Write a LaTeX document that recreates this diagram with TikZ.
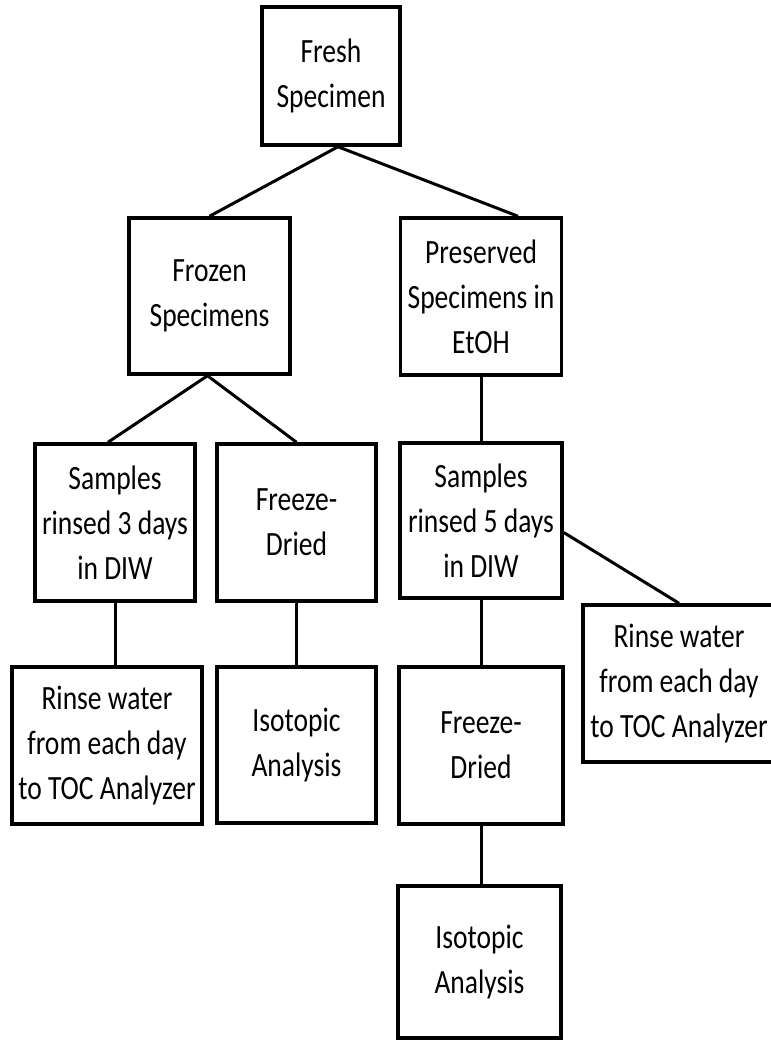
\documentclass[tikz,border=0pt]{standalone}
\usepackage{fontspec}
\setmainfont{Carlito}[FakeStretch=0.81]
\usepackage{tikz}
\usetikzlibrary{positioning}
\tikzstyle{box} = [draw,line width=3.5pt,align=center,inner sep=0pt,minimum width=161pt,minimum height=157pt,font=\fontsize{34}{45}\selectfont]
\tikzstyle{link} = [line width=3pt]

\begin{document}
\begin{tikzpicture}[x=1pt,y=-1pt]
		\useasboundingbox (0,0) rectangle (770,1040);
		\node [box,minimum width=138pt,minimum height=138pt] (fresh) at (331,76) {Fresh\\Specimen};
		\node [box,minimum height=156pt] (frozen) at (209.5,296) {Frozen\\Specimens};
		\node [box] (preserved) at (481,296.5) {Preserved\\Specimens in\\EtOH};
		\node [box,minimum width=160pt] (rinsedthree) at (115,522.5) {Samples\\rinsed 3 days\\in DIW};
		\node [box,minimum width=159pt] (freezeleft) at (296.5,522.5) {Freeze-\\Dried};
		\node [box,minimum width=162pt,minimum height=155pt] (rinsedfive) at (481,520.5) {Samples\\rinsed 5 days\\in DIW};
		\node [box,minimum width=190pt] (rinseleft) at (107,745.5) {Rinse water\\from each day\\to TOC Analyzer};
		\node [box,minimum width=159pt,minimum height=156pt] (isoleft) at (296.5,745) {Isotopic\\Analysis};
		\node [box,minimum width=164pt] (freezeright) at (481,745.5) {Freeze-\\Dried};
		\node [box,minimum width=192pt] (rinseright) at (679,683.5) {Rinse water\\from each day\\to TOC Analyzer};
		\node [box,minimum width=163pt,minimum height=152pt] (isoright) at (479.5,962) {Isotopic\\Analysis};
		\draw [link] ([xshift=7pt]fresh.south) -- (frozen.north);
		\draw [link] ([xshift=7pt]fresh.south) -- ([xshift=37pt]preserved.north);
		\draw [link] ([xshift=-2pt]frozen.south) -- ([xshift=-7pt]rinsedthree.north);
		\draw [link] ([xshift=-2pt]frozen.south) -- (freezeleft.north);
		\draw [link] (preserved.south) -- (rinsedfive.north);
		\draw [link] ([yshift=-12pt]rinsedfive.east) -- (rinseright.north);
		\draw [link] (rinsedthree.south) -- (rinsedthree.south |- rinseleft.north);
		\draw [link] (freezeleft.south) -- (isoleft.north);
		\draw [link] (rinsedfive.south) -- (rinsedfive.south |- freezeright.north);
		\draw [link] (freezeright.south) -- (freezeright.south |- isoright.north);
	\end{tikzpicture}
\end{document}
